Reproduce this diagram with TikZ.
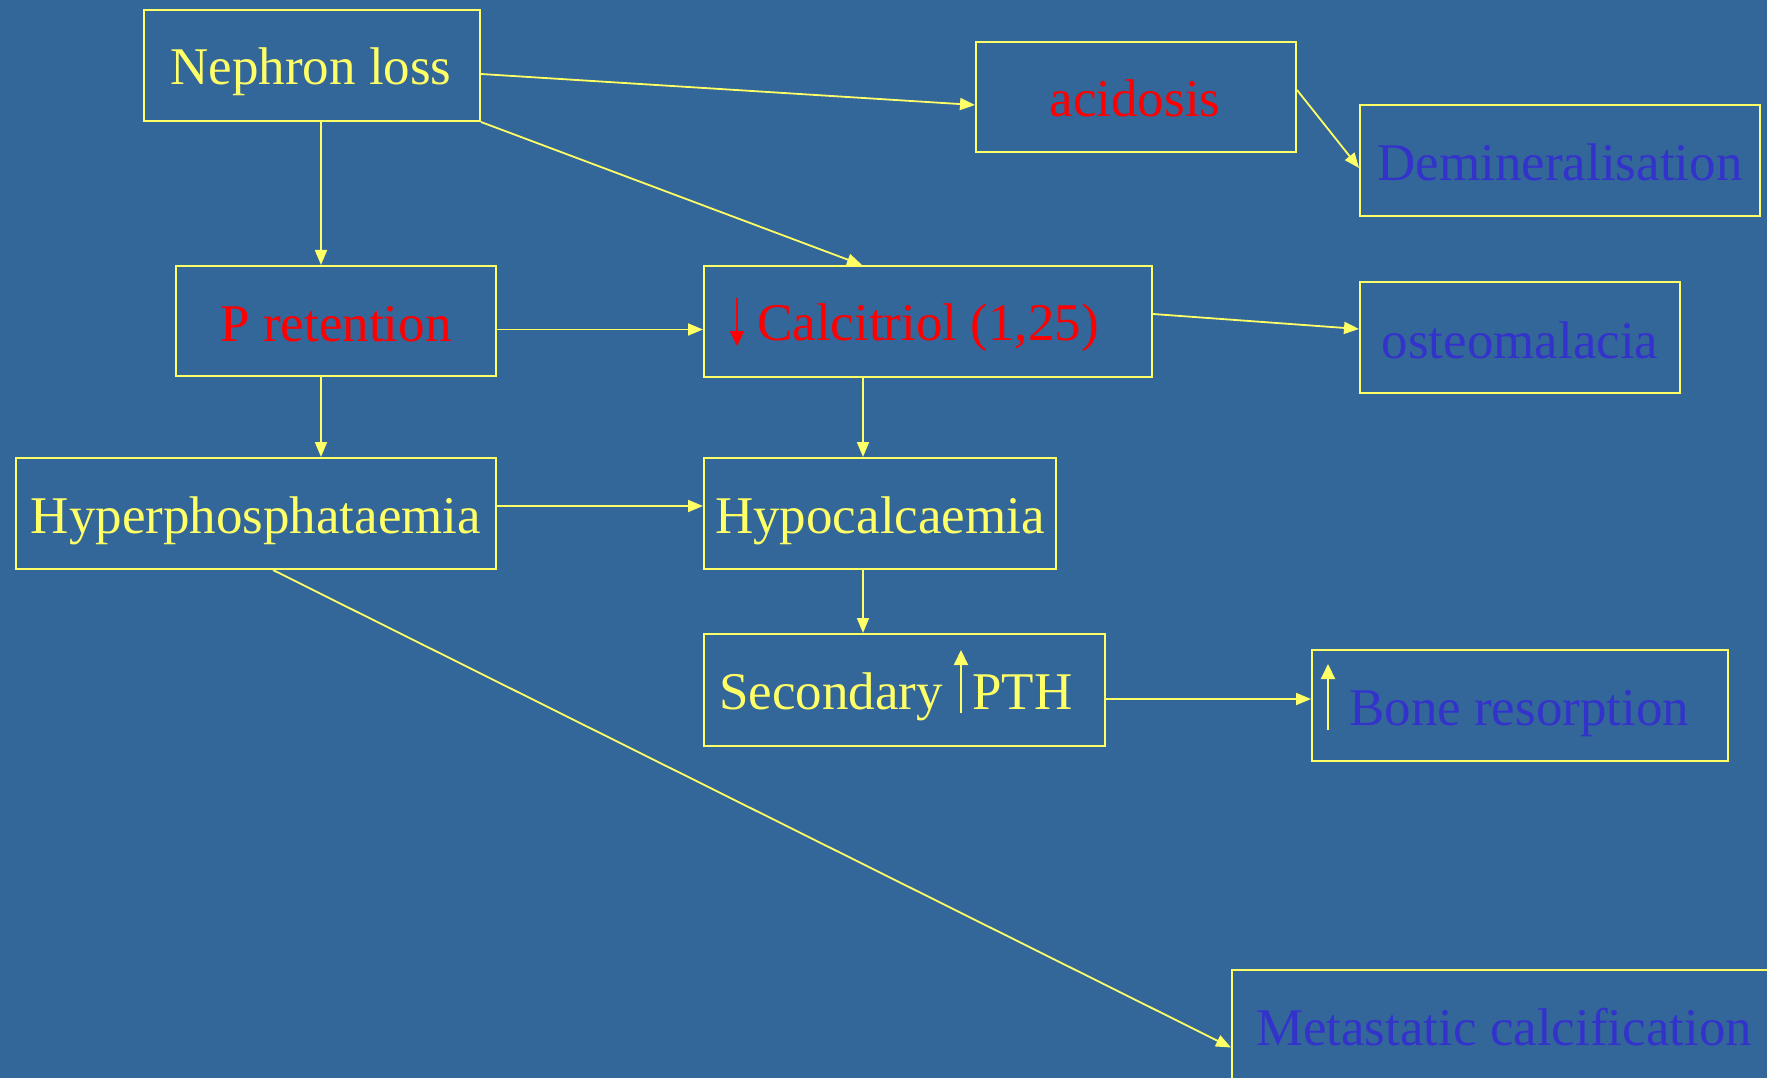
\documentclass[tikz,border=0pt]{standalone}
\usepackage{fontspec}
\setmainfont{Liberation Serif}
\usetikzlibrary{arrows.meta}
\definecolor{bg}{RGB}{51,102,153}
\definecolor{yel}{RGB}{255,255,102}
\definecolor{txtblue}{RGB}{51,51,204}
\definecolor{txtred}{RGB}{255,0,0}
\tikzset{
  box/.style={draw=yel, line width=2pt, inner sep=0pt, minimum height=111pt},
  lbl/.style={anchor=base, inner sep=0pt, font=\fontsize{53}{60}\selectfont},
  conn/.style={draw=yel, line width=1.8pt, -{Triangle[length=15pt,width=12pt]}},
  glyph/.style={line width=2pt, -{Triangle[length=15pt,width=14pt]}}
}
\begin{document}
\begin{tikzpicture}[x=1pt,y=-1pt]
\fill[bg] (0,0) rectangle (1767,1078);
\useasboundingbox (0,0) rectangle (1767,1078);
\begin{scope}
\clip (0,0) rectangle (1767,1078);
% boxes
\node[box, minimum width=336pt] (neph) at (312,65.5) {};
\node[box, minimum width=320pt, minimum height=110pt] (acid) at (1136,97) {};
\node[box, minimum width=400pt] (demin) at (1560,161) {};
\node[box, minimum width=320pt, minimum height=110pt] (pret) at (336,321) {};
\node[box, minimum width=448pt] (calc) at (928,321.5) {};
\node[box, minimum width=320pt] (osteo) at (1520,337.5) {};
\node[box, minimum width=480pt] (hyper) at (256,513.5) {};
\node[box, minimum width=352pt] (hypoc) at (880,513.5) {};
\node[box, minimum width=401pt, minimum height=112pt] (sec) at (904.5,690) {};
\node[box, minimum width=416pt] (bone) at (1520,705.5) {};
\node[box, minimum width=548pt] (meta) at (1506,1025.5) {};
% texts
\node[lbl, text=yel] (nepht) at (311,85) {Nephron loss};
\node[lbl, text=txtred] (acidt) at (1135,117) {acidosis};
\node[lbl, text=txtblue] (demint) at (1560,181) {Demineralisation};
\node[lbl, text=txtred] (prett) at (336,341) {P retention};
\node[lbl, text=txtred, anchor=base west] (calct) at (757,340) {Calcitriol (1,25)};
\node[lbl, text=txtblue] (osteot) at (1520,358) {osteomalacia};
\node[lbl, text=yel] (hypert) at (256,533.5) {Hyperphosphataemia};
\node[lbl, text=yel] (hypoct) at (880,533.5) {Hypocalcaemia};
\node[lbl, text=yel, anchor=base east] (sect) at (943,709) {Secondary};
\node[lbl, text=yel, anchor=base west] (ptht) at (972,709) {PTH};
\node[lbl, text=txtblue, anchor=base west] (bonet) at (1349,725) {Bone resorption};
\node[lbl, text=txtblue] (metat) at (1504,1045) {Metastatic calcification};
% arrow glyphs inside texts
\draw[glyph, txtred] (737,298) -- (737,346);
\draw[glyph, yel] (961,713) -- (961,650);
\draw[glyph, yel] (1328,730) -- (1328,664);
% connectors
\draw[conn] ([yshift=-8.5pt]neph.east) -- ([yshift=-8pt]acid.west);
\draw[conn] (neph.south east) -- ([xshift=-66pt]calc.north);
\draw[conn] ([xshift=9pt]neph.south) -- ([xshift=-15pt]pret.north);
\draw[conn] ([yshift=7pt]acid.east) -- ([yshift=-7pt]demin.west);
\draw[conn] ([yshift=-8.5pt]pret.east) -- ([yshift=-8pt]calc.west);
\draw[conn] ([yshift=7.5pt]calc.east) -- ([yshift=8.5pt]osteo.west);
\draw[conn] ([xshift=-15pt]pret.south) -- ([xshift=-15pt]pret.south |- hyper.north);
\draw[conn] ([xshift=-65pt]calc.south) -- ([xshift=-65pt]calc.south |- hypoc.north);
\draw[conn] ([yshift=7.5pt]hyper.east) -- ([yshift=7.5pt]hypoc.west);
\draw[conn] ([xshift=-17pt]hypoc.south) -- ([xshift=-17pt]hypoc.south |- sec.north);
\draw[conn] ([yshift=-9pt]sec.east) -- ([yshift=6.5pt]bone.west);
\draw[conn] ([xshift=17pt]hyper.south) -- ([yshift=-22pt]meta.west);
\end{scope}
\end{tikzpicture}
\end{document}
